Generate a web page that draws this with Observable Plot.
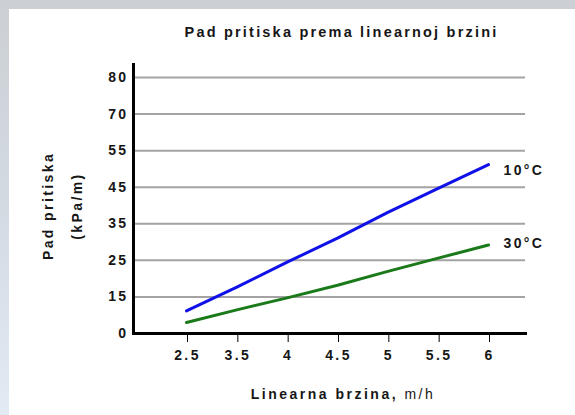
<!DOCTYPE html>
<html>
<head>
<meta charset="utf-8">
<script src="https://cdn.jsdelivr.net/npm/d3@7"></script>
<script src="https://cdn.jsdelivr.net/npm/@observablehq/plot@0.6"></script>
<style>
  html, body { margin: 0; padding: 0; }
  body { width: 575px; height: 415px; overflow: hidden; position: relative; background: #ccd0d4; font-family: "Liberation Sans", Arial, sans-serif; }
  #leftband { position: absolute; left: 0; top: 0; width: 9px; height: 415px; background: linear-gradient(to bottom, #ccd0d4 0%, #d3dae2 50%, #e2eaf3 100%); }
  #panel { position: absolute; left: 9px; top: 9px; width: 566px; height: 406px; background: #ffffff; }
  #title { position: absolute; left: 0; width: 575px; top: 24px; text-align: center; padding-left: 108px; box-sizing: border-box; font-weight: bold; font-size: 14.5px; letter-spacing: 2.2px; color: #161616; }
  #chart { position: absolute; left: 0; top: 0; }
  #ylab { position: absolute; left: 63px; top: 206px; transform: translate(-50%, -50%) rotate(-90deg); font-weight: bold; font-size: 14px; color: #161616; text-align: center; line-height: 29px; white-space: nowrap; letter-spacing: 2.4px; }
  #xlab { position: absolute; left: 0; width: 575px; top: 386px; text-align: center; padding-left: 111px; box-sizing: border-box; font-size: 14px; color: #161616; letter-spacing: 2.5px; }
</style>
</head>
<body>
<div id="leftband"></div>
<div id="panel"></div>
<div id="chart"></div>
<div id="title">Pad pritiska prema linearnoj brzini</div>
<div id="ylab">Pad pritiska<br>(kPa/m)</div>
<div id="xlab"><b>Linearna brzina,</b> m/h</div>
<script>
// ---- data ----
const xTicks = [2.5, 3.5, 4, 4.5, 5, 5.5, 6];
const yTicks = [0, 15, 25, 35, 45, 55, 70, 80];
const speed = [2.5, 3.5, 4, 4.5, 5, 5.5, 6];
const drop10 = [9.3, 17.7, 24.5, 31.1, 38.1, 44.7, 51.2];
const drop30 = [4.5, 9.7, 14.6, 18.2, 22.0, 25.6, 29.2];
const seriesNames = ["10°C", "30°C"];
const seriesColors = ["#1010e8", "#1a7a1a"];

// ---- table ----
const rows = [];
[drop10, drop30].forEach((vals, k) => {
  vals.forEach((v, i) => rows.push({speed: speed[i], drop: v, series: seriesNames[k]}));
});
const lastRows = seriesNames.map(s => rows.filter(r => r.series === s).at(-1));

// ---- scales (evenly spaced ticks, piecewise linear) ----
const xStart = 186, xStep = (488 - 186) / (xTicks.length - 1);
const yStart = 333, yStep = (333 - 77) / (yTicks.length - 1);

const labelStyle = {x: "speed", y: "drop", text: "series", dx: 15, textAnchor: "start", fontSize: 14, fontWeight: "bold", fill: "#161616"};

const chart = Plot.plot({
  width: 575,
  height: 415,
  marginLeft: 133,
  marginRight: 50,
  marginTop: 64,
  marginBottom: 82,
  style: {background: "transparent", fontFamily: "Liberation Sans, Arial, sans-serif", letterSpacing: "2.4px"},
  x: {type: "linear", domain: xTicks, range: xTicks.map((d, i) => xStart + i * xStep)},
  y: {type: "linear", domain: yTicks, range: yTicks.map((d, i) => yStart - i * yStep)},
  color: {domain: seriesNames, range: seriesColors},
  marks: [
    Plot.ruleY(yTicks.filter(d => d !== 0), {stroke: "#a3a3a3", strokeWidth: 2}),
    Plot.line(rows, {x: "speed", y: "drop", z: "series", stroke: "series", strokeWidth: 3}),
    Plot.text(lastRows.slice(0, 1), {...labelStyle, dy: 6}),
    Plot.text(lastRows.slice(1, 2), {...labelStyle, dy: -1}),
    Plot.frame({anchor: "left", stroke: "#000", strokeWidth: 3}),
    Plot.frame({anchor: "bottom", stroke: "#000", strokeWidth: 3}),
    Plot.axisX({ticks: xTicks, tickFormat: d => String(d), tickSize: 9, tickPadding: 8, tickWidth: 2, fontSize: 14, fontWeight: "bold", fill: "#161616", stroke: "#000", dx: 1, label: null}),
    Plot.axisY({ticks: yTicks, tickFormat: d => String(d), tickSize: 0, tickPadding: 5, fontSize: 14, fontWeight: "bold", fill: "#161616", label: null})
  ]
});
document.getElementById("chart").appendChild(chart);
</script>
</body>
</html>
